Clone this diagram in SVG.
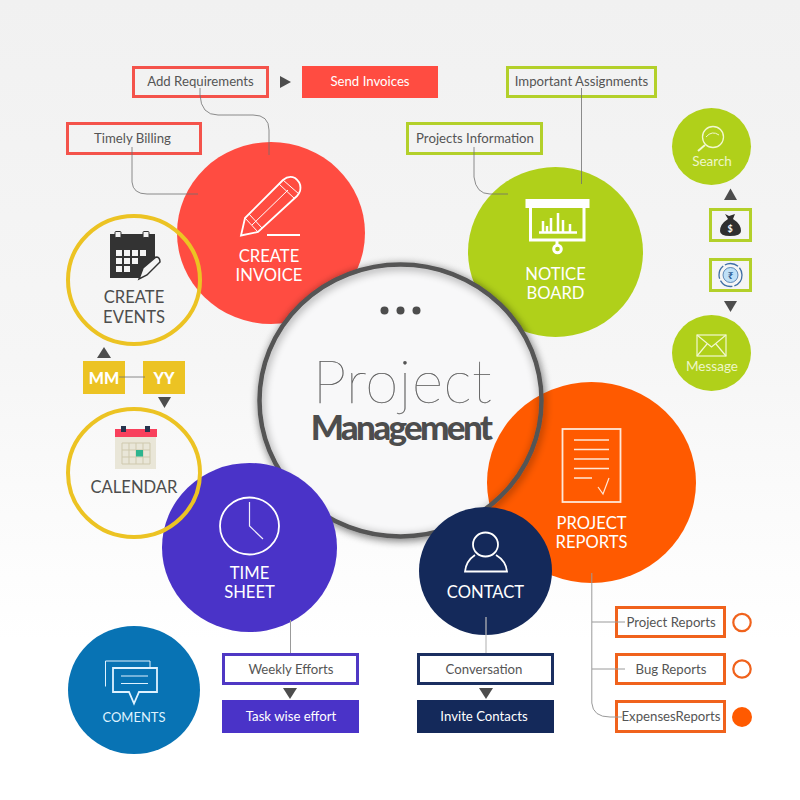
<svg xmlns="http://www.w3.org/2000/svg" width="800" height="800" viewBox="0 0 800 800">
<style>
text{font-family:Lato,"Noto Sans","Liberation Sans",sans-serif;text-anchor:middle}
.t{font-size:13.2px;fill:#555}
.w{font-size:13.2px;fill:#fff}
.h{font-size:16.6px;fill:#fff}
.d{font-size:16.6px;fill:#4d4d4d}
.s{font-size:13.5px;fill:#eef6c8}
.ln{fill:none;stroke:#fff;stroke-width:1.800}
.th{fill:none;stroke:#fff;stroke-width:1}
.c{fill:none;stroke:#707070;stroke-width:.8}
.b{fill:none;stroke-width:3}
.ar{fill:#4d4d4d}
.red{stroke:#f4534b}.gr{stroke:#b3d02a}.or{stroke:#f0621c}.pu{stroke:#4f38c4}.na{stroke:#1b2f60}
.ring{fill:none;stroke:#ecc323;stroke-width:4}
</style>
<defs>
<linearGradient id="bg" x1="0" y1="0" x2="0" y2="1"><stop offset="0" stop-color="#f1f1f1"/><stop offset=".45" stop-color="#f6f6f6"/><stop offset=".8" stop-color="#fff"/></linearGradient>
<filter id="sh" x="-15%" y="-15%" width="130%" height="130%"><feDropShadow dx="1" dy="2" stdDeviation="4" flood-color="#000" flood-opacity=".45"/></filter>
</defs>
<rect width="800" height="800" fill="url(#bg)"/>

<g id="create-invoice">
<ellipse cx="271" cy="233" rx="94" ry="91" fill="#ff4c41"/>
<path class="ln" d="M241 235.500L245 218L283 180Q289 175 295 178Q302 183 300 191Q299 194 297 196L258 232Z"/>
<path class="th" d="M245 218L258 232M252 225L288 190M249 214L262 228M283 180L299 194M279 184L295 199"/>
<path d="M267 235H300" class="ln"/>
<text class="h" x="269" y="261.500">CREATE</text>
<text class="h" x="269" y="281">INVOICE</text>
</g>

<g id="notice-board">
<ellipse cx="555.500" cy="252" rx="87.500" ry="85" fill="#b0d01a"/>
<rect x="525.500" y="199" width="64" height="9" fill="#fff"/>
<path d="M530.500 208V240H584V208" fill="none" stroke="#fff" stroke-width="3"/>
<path d="M557 241v4" stroke="#fff" stroke-width="3"/>
<circle cx="557.500" cy="249" r="3.800" fill="none" stroke="#fff" stroke-width="3"/>
<path d="M539 232.500H577M543 232V221M547 232V226M551 232V218M558 232V213M563 232V220M570 232V224" stroke="#fff" stroke-width="2.500" fill="none"/>
<text class="h" x="555.500" y="279.500">NOTICE</text>
<text class="h" x="555.500" y="299">BOARD</text>
</g>

<g id="central-disc">
<ellipse cx="400.500" cy="400.500" rx="141" ry="136" fill="#f8f8f9" filter="url(#sh)"/>
</g>

<g id="project-reports">
<ellipse cx="591.500" cy="482.500" rx="104.500" ry="100.500" fill="#ff5a00"/>
<rect x="562.500" y="429" width="58" height="73" fill="none" stroke="#ffe7d6" stroke-width="1.800"/>
<path d="M574 440H609M574 449.500H609M574 459H609M574 468.500H609M574 478H592" stroke="#ffe7d6" stroke-width="1.300" fill="none"/>
<path d="M598 487L603 494L609 478" stroke="#ffe7d6" stroke-width="1.200" fill="none"/>
<text class="h" x="591.500" y="528.500">PROJECT</text>
<text class="h" x="591.500" y="548">REPORTS</text>
</g>

<g id="search">
<ellipse cx="711.500" cy="146.500" rx="39.500" ry="38.500" fill="#b0d01a"/>
<circle cx="713" cy="137" r="10.500" fill="none" stroke="#f2f8d0" stroke-width="1.300"/>
<path d="M706 137Q712 130 719 135" fill="none" stroke="#f2f8d0" stroke-width="1"/>
<path d="M705 145L698 151" stroke="#f2f8d0" stroke-width="2" fill="none"/>
<text class="s" x="712" y="166">Search</text>
</g>

<g id="message">
<ellipse cx="711.500" cy="353" rx="39.500" ry="38" fill="#b0d01a"/>
<rect x="697" y="335" width="29" height="21" fill="none" stroke="#f2f8d0" stroke-width="1.200"/>
<path d="M697 335L711.500 347L726 335M697 356L707 344M726 356L716 344" fill="none" stroke="#f2f8d0" stroke-width="1.200"/>
<text class="s" x="712" y="371">Message</text>
</g>

<g id="money-bag">
<rect class="b gr" x="710.500" y="209.500" width="40" height="31"/>
<path d="M725 214L729 216L735 214L733 219Q741 224 741 231Q741 236 730 236Q720 236 720 231Q720 224 728 219Z" fill="#2f2f2f"/>
<text x="730" y="232" style="font-size:9px;font-weight:700;fill:#fff">$</text>
</g>

<g id="rupee">
<rect class="b gr" x="710.500" y="259.500" width="40" height="31"/>
<circle cx="730.500" cy="275" r="11.500" fill="none" stroke="#3f6ea5" stroke-width="1.300" stroke-dasharray="14 2"/>
<circle cx="730.500" cy="275" r="7.500" fill="#bfe0f7" stroke="#3f6ea5" stroke-width=".8"/>
<text x="730.500" y="279" style="font-size:10px;font-weight:700;fill:#2f5f95;font-family:'Noto Sans','DejaVu Sans',sans-serif">₹</text>
</g>

<g id="central">
<ellipse cx="400.500" cy="400.500" rx="141" ry="136" fill="none" stroke="#555" stroke-width="4.500" filter="url(#sh)"/>
<circle cx="384.500" cy="310.500" r="4" fill="#4d4d4d"/>
<circle cx="400.500" cy="310.500" r="4" fill="#4d4d4d"/>
<circle cx="416.500" cy="310.500" r="4" fill="#4d4d4d"/>
<text x="402.500" y="403" style="font-size:60px;font-weight:100;fill:#555;stroke:#555;stroke-width:.25px;letter-spacing:.6px">Project</text>
<text x="400.500" y="440" style="font-size:35px;font-weight:900;fill:#4d4d4d;letter-spacing:-2.700px">Management</text>
</g>

<g id="time-sheet">
<ellipse cx="249.500" cy="547.500" rx="87.500" ry="84.500" fill="#4a33c8"/>
<ellipse cx="249.500" cy="526" rx="29.500" ry="28.500" fill="none" stroke="#fff" stroke-width="1.800"/>
<path d="M249.500 502V526L263 539" fill="none" stroke="#f0eefb" stroke-width="1.200"/>
<text class="h" x="249.500" y="579">TIME</text>
<text class="h" x="249.500" y="598">SHEET</text>
</g>

<g id="contact">
<ellipse cx="485.500" cy="571" rx="66.500" ry="64" fill="#14295a"/>
<ellipse cx="485.500" cy="544.500" rx="12.500" ry="12" fill="none" stroke="#fff" stroke-width="1.800"/>
<path d="M475 555Q466 561 465 571.500H507Q506 561 496 555" fill="none" stroke="#fff" stroke-width="1.800"/>
<text class="h" x="485.500" y="598">CONTACT</text>
</g>

<g id="coments">
<ellipse cx="134" cy="690" rx="66" ry="64" fill="#0873b4"/>
<path d="M105.500 686.500V661H150V667" fill="none" stroke="#dff2ff" stroke-width="1"/>
<path d="M113 668H157V692H139L134 703.500L129 692H113Z" fill="none" stroke="#dff2ff" stroke-width="1.800"/>
<path d="M121 676H148M121 683.500H148" stroke="#dff2ff" stroke-width="1" fill="none"/>
<text x="134" y="722" style="font-size:13px;fill:#dff2ff">COMENTS</text>
</g>

<g id="create-events">
<ellipse class="ring" cx="134" cy="280" rx="66" ry="64"/>
<path d="M110 234H155V262L139 278H110Z" fill="#333"/>
<rect x="115" y="231.500" width="6" height="6" rx="1" fill="#f4f4f4" stroke="#333"/>
<rect x="143" y="231.500" width="6" height="6" rx="1" fill="#f4f4f4" stroke="#333"/>
<path d="M116 250h6v6h-6zM124 250h6v6h-6zM132 250h6v6h-6zM140 250h6v6h-6zM116 258h6v6h-6zM124 258h6v6h-6zM132 258h6v6h-6zM116 266h6v6h-6zM124 266h6v6h-6z" fill="#f4f4f4"/>
<path d="M139 279L143 268L156 257Q160 257 160 262L147 275Z" fill="#f4f4f4" stroke="#333" stroke-width="1.500"/>
<text class="d" x="134" y="303">CREATE</text>
<text class="d" x="134" y="322.500">EVENTS</text>
</g>

<g id="calendar">
<ellipse class="ring" cx="134" cy="473" rx="66" ry="64"/>
<rect x="115" y="437" width="41" height="32" fill="#e9e6d8"/>
<rect x="115" y="429" width="42" height="8" fill="#f8405c"/>
<rect x="121" y="426" width="5" height="6" fill="#26334d"/>
<rect x="145" y="426" width="5" height="6" fill="#26334d"/>
<path d="M122 443H150V464H122ZM122 450H150M122 457H150M129 443V464M136 443V464M143 443V464" fill="none" stroke="#cfc9ae" stroke-width="1"/>
<rect x="136" y="450" width="7" height="6.500" fill="#2db48e"/>
<text class="d" x="134" y="492.500">CALENDAR</text>
</g>

<g id="add-requirements"><rect class="b red" x="133.500" y="67.500" width="134" height="29"/><text class="t" x="200.500" y="86">Add Requirements</text></g>
<g id="send-invoices"><rect x="302" y="66" width="136" height="32" fill="#ff4c41"/><text class="w" x="370" y="86">Send Invoices</text></g>
<g id="timely-billing"><rect class="b red" x="67.500" y="123.500" width="133" height="30"/><text class="t" x="132.500" y="143">Timely Billing</text></g>
<g id="projects-information"><rect class="b gr" x="407.500" y="123.500" width="134" height="30"/><text class="t" x="475" y="143">Projects Information</text></g>
<g id="important-assignments"><rect class="b gr" x="507.500" y="67.500" width="148" height="29"/><text class="t" x="581.500" y="86">Important Assignments</text></g>

<g id="mm"><rect x="83" y="361" width="42" height="33" fill="#ecc323"/><text x="104" y="384" style="font-size:16px;font-weight:900;fill:#fff">MM</text></g>
<g id="yy"><rect x="143" y="361" width="42" height="33" fill="#ecc323"/><text x="164" y="384" style="font-size:16px;font-weight:900;fill:#fff">YY</text></g>

<g id="weekly-efforts"><rect class="b pu" x="223.500" y="654.500" width="134" height="29" fill="#fff" style="fill:#fff"/><text class="t" x="291" y="674">Weekly Efforts</text></g>
<g id="task-wise-effort"><rect x="222" y="700" width="137" height="33" fill="#4a33c8"/><text class="w" x="291" y="721">Task wise effort</text></g>
<g id="conversation"><rect class="b na" x="418.500" y="654.500" width="134" height="29" style="fill:#fff"/><text class="t" x="484" y="674">Conversation</text></g>
<g id="invite-contacts"><rect x="417" y="700" width="137" height="33" fill="#14295a"/><text class="w" x="484" y="721">Invite Contacts</text></g>

<g id="report-project"><rect class="b or" x="616.500" y="607.500" width="108" height="29"/><text class="t" x="671" y="627">Project Reports</text><circle cx="742" cy="622.500" r="8.700" fill="none" stroke="#f0621c" stroke-width="2.200"/></g>
<g id="report-bug"><rect class="b or" x="616.500" y="654.500" width="108" height="29"/><text class="t" x="671" y="674">Bug Reports</text><circle cx="742" cy="669" r="8.700" fill="none" stroke="#f0621c" stroke-width="2.200"/></g>
<g id="report-expenses"><rect class="b or" x="616.500" y="701.500" width="108" height="30"/><text class="t" x="671" y="721">ExpensesReports</text><circle cx="742" cy="717" r="10" fill="#ff5a00"/></g>

<g id="connectors">
<path class="c" d="M200 88V95Q201 115 218 115H253Q269 115 269 130V155"/>
<path class="c" d="M132 147V182Q133 194 147 194H198"/>
<path class="c" d="M474 147V177Q476 194 490 194H508"/>
<path class="c" d="M581.500 88V184"/>
<path class="c" d="M119 377H145"/>
<path d="M290.500 620V653" stroke="#9a9a9a" fill="none"/>
<path d="M486 617V653" stroke="#bcbcbc" fill="none" stroke-width="1.200"/>
<path d="M591.800 573V703Q593 717 610 717H622M592 622H625M592 669H625" stroke="#9a9a9a" fill="none"/>
</g>

<g id="arrows">
<path class="ar" d="M280 76L291 82L280 88Z"/>
<path class="ar" d="M724 200L730.500 188.500L737 200Z"/>
<path class="ar" d="M724 301H737L730.500 312Z"/>
<path class="ar" d="M97 358L104 347L111 358Z"/>
<path class="ar" d="M158 397H171L164.500 408Z"/>
<path class="ar" d="M283 688H297L290 699Z"/>
<path class="ar" d="M479 688H493L486 699Z"/>
</g>
</svg>
